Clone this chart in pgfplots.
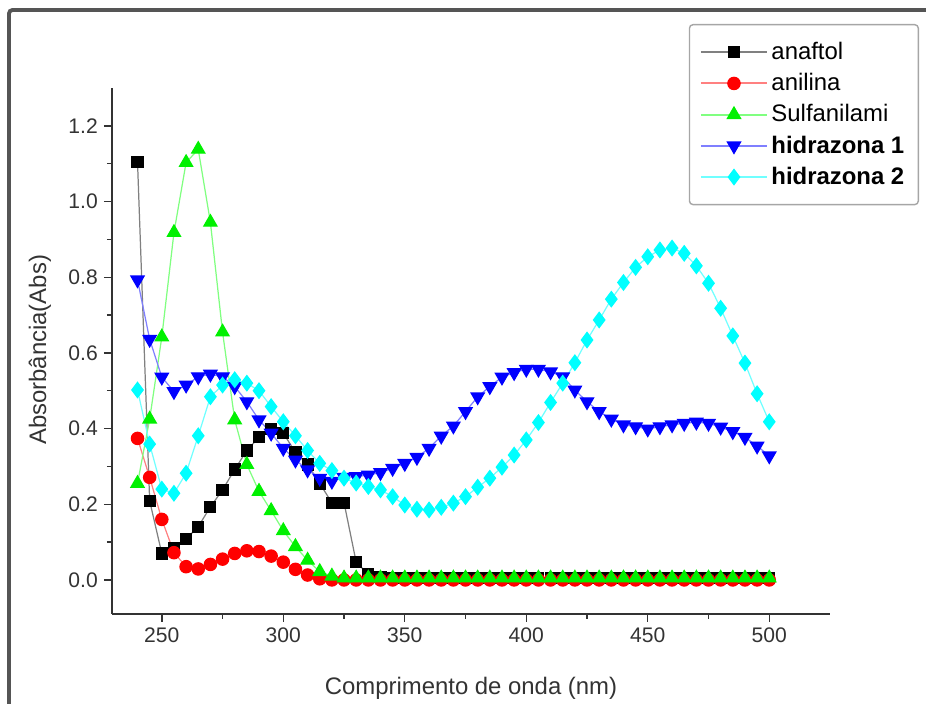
\documentclass[border=0pt]{standalone}
\usepackage{pgfplots}
\pgfplotsset{compat=1.18}
\usepackage{pgfplotstable}
\usepackage{fontspec}
\setmainfont{Liberation Sans}
\definecolor{lgray}{HTML}{808080}
\definecolor{lred}{HTML}{FF8080}
\definecolor{lgreen}{HTML}{80FF80}
\definecolor{lblue}{HTML}{7F7FFF}
\definecolor{lcyan}{HTML}{70FFFF}
\definecolor{mgreen}{HTML}{00F000}
\definecolor{mred}{HTML}{FF0000}
\definecolor{mblue}{HTML}{0000FF}
\definecolor{mcyan}{HTML}{00FFFF}
\definecolor{framegray}{HTML}{555555}
\definecolor{txt}{HTML}{333333}

\pgfplotstableread{
x a b c d e
240 1.105 0.374 0.255 0.793 0.502
245 0.209 0.271 0.425 0.636 0.359
250 0.070 0.160 0.642 0.536 0.240
255 0.085 0.072 0.918 0.498 0.229
260 0.108 0.035 1.103 0.515 0.282
265 0.141 0.029 1.138 0.537 0.381
270 0.193 0.041 0.945 0.544 0.484
275 0.238 0.055 0.655 0.537 0.515
280 0.292 0.070 0.423 0.511 0.529
285 0.342 0.077 0.305 0.471 0.520
290 0.377 0.075 0.234 0.423 0.500
295 0.398 0.063 0.183 0.388 0.458
300 0.388 0.047 0.130 0.348 0.418
305 0.337 0.028 0.088 0.317 0.381
310 0.305 0.013 0.052 0.291 0.342
315 0.255 0.003 0.022 0.269 0.308
320 0.204 0.000 0.010 0.261 0.289
325 0.204 0.000 0.005 0.271 0.269
330 0.047 0.000 0.005 0.273 0.256
335 0.015 0.000 0.005 0.277 0.247
340 0.008 0.000 0.005 0.284 0.238
345 0.005 0.000 0.005 0.295 0.220
350 0.005 0.000 0.005 0.308 0.198
355 0.005 0.000 0.005 0.324 0.187
360 0.005 0.000 0.005 0.348 0.185
365 0.005 0.000 0.005 0.380 0.192
370 0.005 0.000 0.005 0.407 0.203
375 0.005 0.000 0.005 0.445 0.220
380 0.005 0.000 0.005 0.484 0.245
385 0.005 0.000 0.005 0.511 0.269
390 0.005 0.000 0.005 0.536 0.298
395 0.005 0.000 0.005 0.548 0.330
400 0.005 0.000 0.005 0.557 0.370
405 0.005 0.000 0.005 0.557 0.416
410 0.005 0.000 0.005 0.550 0.469
415 0.005 0.000 0.005 0.537 0.520
420 0.005 0.000 0.005 0.502 0.574
425 0.005 0.000 0.005 0.471 0.634
430 0.005 0.000 0.005 0.445 0.687
435 0.005 0.000 0.005 0.425 0.742
440 0.005 0.000 0.005 0.410 0.786
445 0.005 0.000 0.005 0.405 0.826
450 0.005 0.000 0.005 0.399 0.854
455 0.005 0.000 0.005 0.405 0.872
460 0.005 0.000 0.005 0.410 0.877
465 0.005 0.000 0.005 0.414 0.863
470 0.005 0.000 0.005 0.417 0.830
475 0.005 0.000 0.005 0.414 0.784
480 0.005 0.000 0.005 0.404 0.718
485 0.005 0.000 0.005 0.392 0.645
490 0.005 0.000 0.005 0.377 0.573
495 0.005 0.000 0.005 0.354 0.492
500 0.005 0.000 0.005 0.328 0.418
}\data

\begin{document}
\begin{tikzpicture}
\useasboundingbox (0,0) rectangle (18.52cm,14.08cm);
\draw[framegray, line width=2.2pt, rounded corners=2pt] (0.18cm,-0.5cm) -- (0.18cm,13.88cm) -- (19cm,13.88cm);
\begin{axis}[
  at={(2.24cm,1.8cm)}, anchor=south west,
  scale only axis, width=14.36cm, height=10.52cm,
  xmin=229.5, xmax=525, ymin=-0.09, ymax=1.30,
  axis x line*=bottom, axis y line*=left,
  axis line style={black!80, line width=1pt},
  xtick={250,300,350,400,450,500},
  ytick={0,0.2,0.4,0.6,0.8,1.0,1.2},
  minor x tick num=1, minor y tick num=1,
  tick align=outside,
  major tick length=0.16cm, minor tick length=0.1cm,
  tick style={black!80, line width=0.8pt},
  /pgf/number format/assume math mode=true,
  yticklabel style={/pgf/number format/fixed, /pgf/number format/fixed zerofill, /pgf/number format/precision=1},
  xticklabel style={/pgf/number format/1000 sep={}},
  ticklabel style={font=\fontsize{12}{14}\selectfont, text=txt},
  xlabel={Comprimento de onda (nm)},
  ylabel={Absorbância(Abs)},
  label style={font=\fontsize{13.6}{16}\selectfont, text=txt},
  x label style={at={(axis description cs:0.5,-0.1407)}, anchor=center},
  y label style={at={(axis description cs:-0.1003,0.502)}, anchor=center},
  legend style={at={(1.124,1.1217)}, anchor=north east, draw=gray!70, line width=0.8pt,
    rounded corners=2pt, font=\fontsize{13.6}{16}\selectfont, row sep=2.4pt,
    inner xsep=6pt, inner ysep=8pt},
  legend cell align=left,
  every axis plot/.append style={line width=0.7pt},
]
\addplot[color=lgray, mark=square*, mark size=3.1pt, mark options={fill=black, draw=black},
  legend image code/.code={\draw[lgray, line width=1.1pt] (0cm,0cm) -- (1.32cm,0cm); \draw[black, fill=black] plot[mark=square*, mark size=3.1pt] coordinates {(0.66cm,0cm)};}] table[x=x,y=a]{\data};
\addlegendentry{anaftol}
\addplot[color=lred, mark=*, mark size=3.5pt, mark options={fill=mred, draw=mred},
  legend image code/.code={\draw[lred, line width=1.1pt] (0cm,0cm) -- (1.32cm,0cm); \draw[mred, fill=mred] plot[mark=*, mark size=3.5pt] coordinates {(0.66cm,0cm)};}] table[x=x,y=b]{\data};
\addlegendentry{anilina}
\addplot[color=lgreen, mark=triangle*, mark size=4.3pt, mark options={fill=mgreen, draw=mgreen},
  legend image code/.code={\draw[lgreen, line width=1.1pt] (0cm,0cm) -- (1.32cm,0cm); \draw[mgreen, fill=mgreen] plot[mark=triangle*, mark size=4.3pt] coordinates {(0.66cm,0cm)};}] table[x=x,y=c]{\data};
\addlegendentry{Sulfanilami}
\addplot[color=lblue, mark=triangle*, mark size=4.3pt, mark options={fill=mblue, draw=mblue, rotate=180},
  legend image code/.code={\draw[lblue, line width=1.1pt] (0cm,0cm) -- (1.32cm,0cm); \draw[mblue, fill=mblue] plot[mark=triangle*, mark size=4.3pt, mark options={rotate=180}] coordinates {(0.66cm,0cm)};}] table[x=x,y=d]{\data};
\addlegendentry{\textbf{hidrazona 1}}
\addplot[color=lcyan, mark=diamond*, mark size=4.3pt, mark options={fill=mcyan, draw=mcyan},
  legend image code/.code={\draw[lcyan, line width=1.1pt] (0cm,0cm) -- (1.32cm,0cm); \draw[mcyan, fill=mcyan] plot[mark=diamond*, mark size=4.3pt] coordinates {(0.66cm,0cm)};}] table[x=x,y=e]{\data};
\addlegendentry{\textbf{hidrazona 2}}
\end{axis}
\end{tikzpicture}
\end{document}
